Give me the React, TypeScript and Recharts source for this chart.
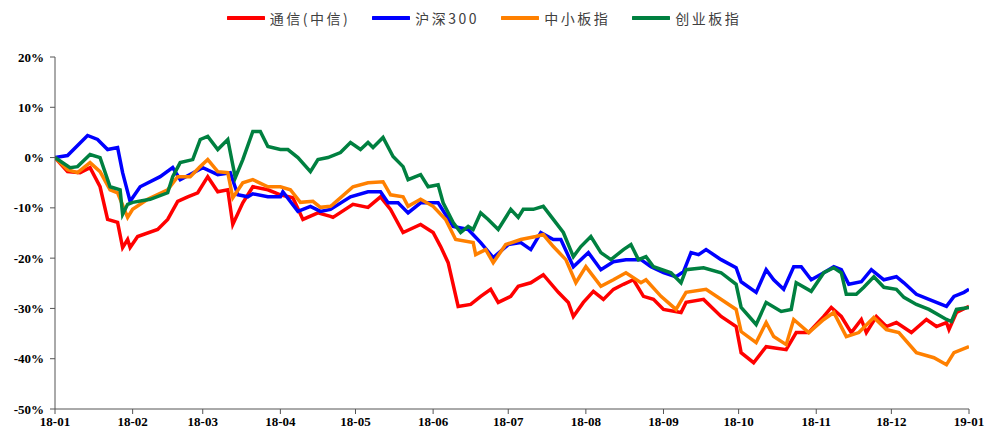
import React from "react";
import { LineChart, Line, XAxis, YAxis, Legend } from "recharts";

// x = days since 2018-01-01, y = cumulative return (%)
const monthTicks = [0, 31, 59, 90, 120, 151, 181, 212, 243, 273, 304, 334, 365];
const monthLabels = ["18-01", "18-02", "18-03", "18-04", "18-05", "18-06", "18-07", "18-08", "18-09", "18-10", "18-11", "18-12", "19-01"];
const yTicks = [-50, -40, -30, -20, -10, 0, 10, 20];

const telecom: [number, number][] = [
  [0, 0], [5, -2.8], [10, -3], [14, -2], [18, -5.8], [21, -12.3], [25, -12.9], [27, -17.9], [29, -16.3], [30, -17.9],
  [33, -15.7], [41, -14.3], [45, -12.3], [49, -8.7], [53, -7.8], [57, -7], [61, -3.8], [65, -6.8], [69, -6.4], [71, -13.3],
  [75, -9], [79, -5.8], [85, -6.4], [90, -7.4], [95, -8], [99, -12.3], [105, -11], [110, -11.7], [111, -11.9], [119, -9.3],
  [125, -9.9], [130, -7.8], [134, -10.3], [139, -14.9], [146, -13.3], [151, -14.9], [154, -17.7], [157, -20.9], [161, -29.6],
  [166, -29.2], [170, -27.6], [174, -26.2], [177, -28.8], [182, -27.6], [185, -25.6], [190, -24.9], [195, -23.3], [201, -26.8],
  [205, -28.8], [207, -31.6], [211, -28.8], [215, -26.6], [219, -28.2], [223, -26.2], [227, -25.2], [231, -24.3], [235, -27.6],
  [239, -28.2], [243, -30.2], [250, -30.8], [252, -28.8], [259, -28.2], [266, -31.6], [272, -33.6], [274, -38.8], [279, -40.8],
  [284, -37.6], [292, -38.2], [296, -34.8], [301, -34.8], [307, -31.6], [310, -29.8], [314, -31.6], [318, -34.8], [322, -32.2],
  [324, -34.8], [328, -31.6], [332, -33.6], [336, -32.8], [342, -34.8], [348, -32.2], [352, -33.6], [356, -32.8], [357, -34.2],
  [360, -30.8], [365, -29.6],
];

const hs300: [number, number][] = [
  [0, 0], [5, 0.4], [13, 4.4], [17, 3.6], [21, 1.6], [25, 2.0], [27, -3], [30, -8.7], [34, -5.8], [42, -3.8], [47, -2],
  [50, -4.4], [59, -2], [65, -3.4], [70, -3], [73, -7.4], [77, -7.8], [79, -7.2], [85, -7.8], [90, -7.8], [91, -6.8],
  [97, -10.7], [102, -9.7], [106, -10.7], [110, -10.3], [118, -7.8], [125, -6.8], [130, -6.8], [133, -9], [137, -9],
  [141, -11], [146, -9], [153, -9], [159, -13.7], [165, -14.3], [170, -16.9], [175, -19.9], [181, -17.3], [186, -16.9],
  [190, -18.3], [194, -14.9], [199, -16.3], [202, -16.3], [207, -21.7], [213, -18.9], [218, -22.3], [223, -20.7],
  [228, -20.3], [234, -20.3], [238, -21.7], [243, -22.9], [248, -23.7], [251, -22.7], [254, -18.9], [257, -19.3],
  [260, -18.3], [266, -20.3], [272, -21.9], [274, -24.7], [280, -26.8], [284, -22.3], [287, -24.3], [291, -26.2],
  [295, -21.7], [298, -21.7], [302, -24.3], [307, -22.9], [311, -21.7], [314, -22.3], [317, -25.2], [322, -24.7],
  [326, -22.3], [331, -24.3], [336, -23.7], [339, -24.9], [344, -27.2], [349, -28.2], [356, -29.6], [359, -27.6],
  [363, -26.8], [365, -26.2],
];

const sme: [number, number][] = [
  [0, 0], [5, -2.4], [9, -3], [14, -1], [18, -2.8], [22, -6.4], [25, -7], [29, -11.9], [31, -10.3], [37, -8.3], [45, -6.4],
  [49, -3.8], [54, -3.8], [58, -1.8], [61, -0.4], [65, -2.8], [69, -3], [71, -8], [75, -5], [79, -4.4], [85, -5.8], [90, -5.8],
  [94, -6.4], [98, -8.9], [103, -8.7], [106, -9.9], [110, -9.7], [111, -9.3], [119, -5.8], [125, -5], [131, -4.8], [134, -7.4],
  [139, -7.8], [141, -9.7], [146, -8.3], [151, -9.7], [156, -12.3], [160, -16.3], [167, -16.9], [168, -19.3], [172, -18.3],
  [175, -20.9], [180, -17.3], [186, -16.3], [192, -15.7], [195, -15.3], [199, -17.7], [204, -20.3], [208, -24.9], [212, -21.7],
  [218, -25.6], [223, -24.3], [228, -22.9], [234, -24.9], [236, -24.3], [242, -27.6], [248, -30.2], [252, -26.8], [260, -26.2],
  [272, -30.2], [274, -34.6], [280, -36.8], [284, -32.8], [287, -35.6], [292, -37.2], [295, -32.2], [301, -34.8], [307, -32.2],
  [311, -30.8], [316, -35.6], [321, -34.8], [327, -31.8], [332, -34.2], [337, -34.8], [344, -38.8], [351, -39.8], [356, -41.2],
  [359, -38.8], [365, -37.6],
];

const chinext: [number, number][] = [
  [0, 0], [6, -2], [9, -1.8], [14, 0.6], [18, 0], [22, -5.8], [26, -6.4], [27, -11.3], [29, -9.3], [31, -8.9], [38, -8.3],
  [45, -7], [47, -3.8], [50, -1], [55, -0.4], [58, 3.6], [61, 4.2], [65, 1.6], [69, 3.6], [72, -4], [75, -0.4], [79, 5.2],
  [82, 5.2], [85, 2.2], [90, 1.6], [93, 1.6], [97, 0], [102, -2.8], [105, -0.4], [109, 0], [114, 1], [118, 3], [122, 1.6],
  [125, 3], [127, 2], [131, 4], [135, 0.2], [139, -1.8], [141, -4.4], [146, -3.4], [149, -5.8], [153, -5.4], [155, -9],
  [159, -12.9], [162, -14.9], [165, -13.7], [167, -14.3], [170, -11], [173, -12.3], [177, -14.3], [182, -10.3], [185, -11.9],
  [187, -10.3], [191, -10.3], [195, -9.7], [199, -12.3], [203, -14.9], [207, -19.7], [210, -17.7], [214, -15.7], [218, -18.9],
  [222, -20.3], [227, -18.3], [230, -17.3], [233, -20.3], [236, -19.7], [239, -21.7], [246, -22.9], [250, -24.9], [252, -22.3],
  [259, -21.9], [266, -22.9], [272, -25.2], [274, -29.8], [280, -33.2], [284, -28.8], [290, -30.6], [294, -30.2], [296, -24.9],
  [302, -26.6], [307, -22.9], [311, -21.9], [314, -22.9], [316, -27.2], [320, -27.2], [323, -25.8], [327, -23.7], [331, -25.8],
  [336, -26.2], [339, -27.8], [344, -29.2], [349, -30.2], [356, -32.2], [358, -32.6], [360, -30.2], [365, -29.8],
];

const seriesList = [
  { name: "通信(中信)", color: "#FF0000", pts: telecom },
  { name: "沪深300", color: "#0000FF", pts: hs300 },
  { name: "中小板指", color: "#FF8000", pts: sme },
  { name: "创业板指", color: "#008040", pts: chinext },
];

const toRows = (pts: [number, number][]) => pts.map(([d, v]) => ({ d, v }));

const tickFont = { fontFamily: "'Liberation Serif', 'Times New Roman', serif", fontWeight: 700, fontSize: 13, fill: "#000" };

const LegendContent = () => (
  <div style={{ display: "flex", justifyContent: "center", alignItems: "center", paddingLeft: 2, height: 16 }}>
    {seriesList.map((s) => (
      <div key={s.name} style={{ display: "flex", alignItems: "center", marginRight: 22 }}>
        <svg width={38} height={6} style={{ marginRight: 5 }}>
          <line x1={1} y1={3} x2={37} y2={3} stroke={s.color} strokeWidth={4} strokeLinecap="round" />
        </svg>
        <span
          style={{
            fontFamily: "'Noto Sans CJK SC', sans-serif",
            fontSize: 14,
            letterSpacing: 2.5,
            color: "#404040",
            lineHeight: "16px",
          }}
        >
          {s.name}
        </span>
      </div>
    ))}
  </div>
);

export default function App() {
  return (
    <div style={{ position: "absolute", left: 0, top: 0, width: 988, height: 434, background: "#fff" }}>
      <LineChart width={988} height={434} margin={{ top: 41, right: 19, bottom: 0, left: 0 }}>
        <XAxis
          type="number"
          dataKey="d"
          domain={[0, 365]}
          ticks={monthTicks}
          tickFormatter={(v: number) => monthLabels[monthTicks.indexOf(v)]}
          height={25}
          tick={tickFont}
          tickSize={5}
          tickMargin={3}
          stroke="#555"
          allowDataOverflow
        />
        <YAxis
          type="number"
          domain={[-50, 20]}
          ticks={yTicks}
          tickFormatter={(v: number) => `${v}%`}
          width={55}
          tick={tickFont}
          tickSize={5}
          tickMargin={6}
          stroke="#555"
          allowDataOverflow
        />
        <Legend verticalAlign="top" height={16} wrapperStyle={{ top: 10, left: 0, width: 988 }} content={<LegendContent />} />
        {seriesList.map((s) => (
          <Line
            key={s.name}
            data={toRows(s.pts)}
            dataKey="v"
            name={s.name}
            type="linear"
            stroke={s.color}
            strokeWidth={3.5}
            dot={false}
            activeDot={false}
            isAnimationActive={false}
          />
        ))}
      </LineChart>
    </div>
  );
}
